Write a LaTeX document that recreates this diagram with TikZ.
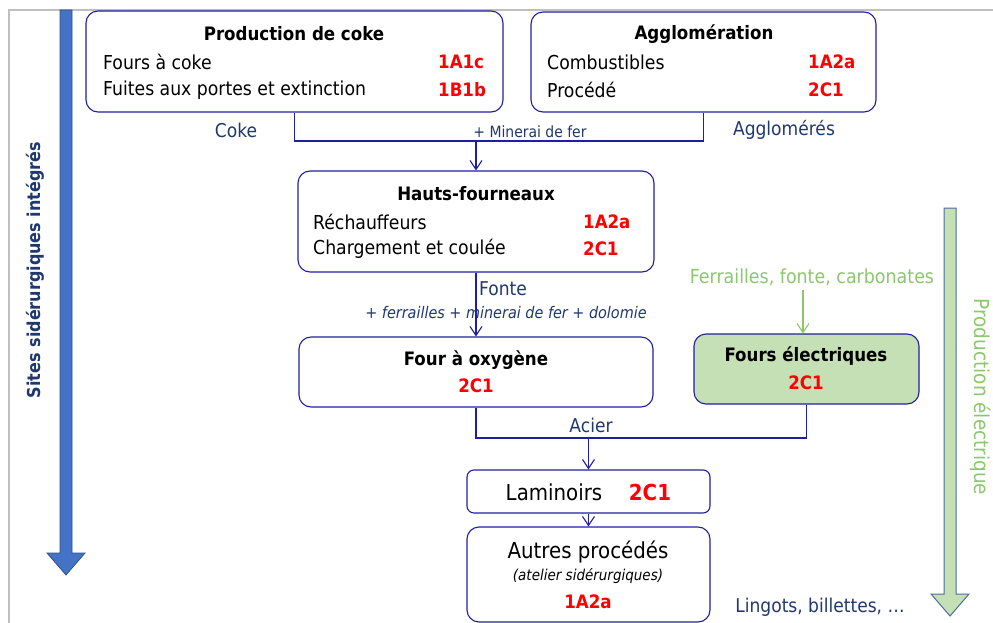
\documentclass[tikz,border=0pt]{standalone}
\usepackage{fontspec}
\setmainfont{DejaVu Sans Condensed}
\usetikzlibrary{arrows.meta}
\definecolor{navy}{RGB}{31,56,110}
\definecolor{lineblue}{RGB}{30,30,165}
\definecolor{arrblue}{RGB}{68,114,196}
\definecolor{arrblueb}{RGB}{47,82,143}
\definecolor{lgreen}{RGB}{197,224,180}
\definecolor{tgreen}{RGB}{140,198,110}
\definecolor{gborder}{RGB}{75,110,160}
\definecolor{codered}{RGB}{255,0,0}
\definecolor{frame}{RGB}{191,191,191}
\tikzset{
  x=1pt, y=-1pt,
  box/.style={draw=lineblue, line width=1.1pt, rounded corners=12pt, inner sep=0pt},
  txt/.style={inner sep=0pt, font=\fontsize{19.2}{21}\selectfont, text=black},
  ttl/.style={inner sep=0pt, font=\fontsize{18.5}{20}\selectfont\bfseries, text=black},
  code/.style={inner sep=0pt, font=\fontsize{18.5}{20}\selectfont\bfseries, text=codered},
  lbl/.style={inner sep=0pt, font=\fontsize{19}{21}\selectfont, text=navy},
  small/.style={inner sep=0pt, font=\fontsize{15.5}{17}\selectfont, text=navy},
  conn/.style={draw=lineblue, line width=1.1pt},
  arr/.style={conn, -{Straight Barb[length=9pt,width=12pt]}},
}
\begin{document}
\begin{tikzpicture}
\useasboundingbox (0,0) rectangle (993,623);
% frame
\draw[frame, line width=1.5pt] (9,623) -- (9,10) -- (993,10);

% big arrows
\draw[arrblueb, fill=arrblue, line width=0.8pt]
  (60,10) -- (72,10) -- (72,553) -- (85,553) -- (66,575) -- (47,553) -- (60,553) -- cycle;
\draw[gborder, fill=lgreen, line width=1pt]
  (944,208) -- (956,208) -- (956,594) -- (969,594) -- (950,616) -- (931,594) -- (944,594) -- cycle;
\node[inner sep=0pt, rotate=90, font=\fontsize{17.8}{20}\selectfont\bfseries, text=navy] (sites) at (35,270) {Sites sidérurgiques intégrés};
\node[inner sep=0pt, rotate=-90, font=\fontsize{20.5}{22}\selectfont, text=tgreen] (prodel) at (981,397) {Production électrique};

% boxes
\node[box, minimum width=417pt, minimum height=101pt] (prod) at (294.5,61.5) {};
\node[box, minimum width=345pt, minimum height=100pt] (agglo) at (703.5,62) {};
\node[box, minimum width=356pt, minimum height=101pt] (hf) at (476,221.5) {};
\node[box, minimum width=354pt, minimum height=70pt] (oxy) at (476,372) {};
\node[box, fill=lgreen, minimum width=225pt, minimum height=70pt] (elec) at (806.5,369) {};
\node[box, rounded corners=7pt, minimum width=243pt, minimum height=43pt] (lam) at (588.5,491.5) {};
\node[box, minimum width=243pt, minimum height=95pt] (autres) at (588.5,574.5) {};

% texts production
\node[ttl] (t1) at (294,34) {Production de coke};
\node[txt, anchor=west] (t1a) at (103,62) {Fours à coke};
\node[txt, anchor=west] (t1b) at (103,90) {Fuites aux portes et extinction};
\node[code, anchor=west] (c1a) at (438,62) {1A1c};
\node[code, anchor=west] (c1b) at (438,90) {1B1b};
% agglomeration
\node[ttl] (t2) at (704,34) {Agglomération};
\node[txt, anchor=west] (t2a) at (547,62) {Combustibles};
\node[txt, anchor=west] (t2b) at (547,90) {Procédé};
\node[code, anchor=west] (c2a) at (808,62) {1A2a};
\node[code, anchor=west] (c2b) at (808,90) {2C1};
% hauts fourneaux
\node[ttl] (t3) at (476,194) {Hauts-fourneaux};
\node[txt, anchor=west] (t3a) at (313,222) {Réchauffeurs};
\node[txt, anchor=west] (t3b) at (313,249) {Chargement et coulée};
\node[code, anchor=west] (c3a) at (583,222) {1A2a};
\node[code, anchor=west] (c3b) at (583,249) {2C1};
% oxygene
\node[ttl] (t4) at (476,360) {Four à oxygène};
\node[code] (c4) at (476,386) {2C1};
% electriques
\node[ttl] (t5) at (806,356) {Fours électriques};
\node[code] (c5) at (806,383) {2C1};
% laminoirs
\node[txt, font=\fontsize{22}{24}\selectfont] (t6) at (554,492) {Laminoirs};
\node[code, font=\fontsize{22}{24}\selectfont\bfseries] (c6) at (650,492) {2C1};
% autres
\node[txt, font=\fontsize{22}{24}\selectfont] (t7) at (588,552) {Autres procédés};
\node[txt, font=\fontsize{15}{17}\selectfont\itshape] (t7a) at (588,576) {(atelier sidérurgiques)};
\node[code] (c7) at (588,602) {1A2a};

% labels
\node[lbl] (coke) at (236,130) {Coke};
\node[small] (minf) at (530,132) {+ Minerai de fer};
\node[lbl] (aggl) at (784,130) {Agglomérés};
\node[lbl, anchor=west] (fonte) at (479,289) {Fonte};
\node[small, font=\fontsize{16}{18}\selectfont\itshape] (ferr) at (506,313) {+ ferrailles + minerai de fer + dolomie};
\node[lbl, text=tgreen, font=\fontsize{19.4}{21}\selectfont] (fcarb) at (812,277) {Ferrailles, fonte, carbonates};
\node[lbl] (acier) at (591,425) {Acier};
\node[lbl] (ling) at (820,607) {Lingots, billettes, …};

% connectors
\coordinate (j1) at (476,141);
\coordinate (j2) at (588.5,438);
\coordinate (gtop) at (803,290);
\draw[conn] (prod.south) |- (j1) -| (agglo.south);
\draw[arr] (j1) -- (hf.north);
\draw[arr] (hf.south) -- (oxy.north);
\draw[conn] (oxy.south) |- (j2) -| (elec.south);
\draw[arr] (j2) -- (lam.north);
\draw[arr] (lam.south) -- (autres.north);
\draw[draw=tgreen, line width=1.1pt, -{Straight Barb[length=9pt,width=12pt]}] (gtop) -- (gtop |- elec.north);
\end{tikzpicture}
\end{document}
